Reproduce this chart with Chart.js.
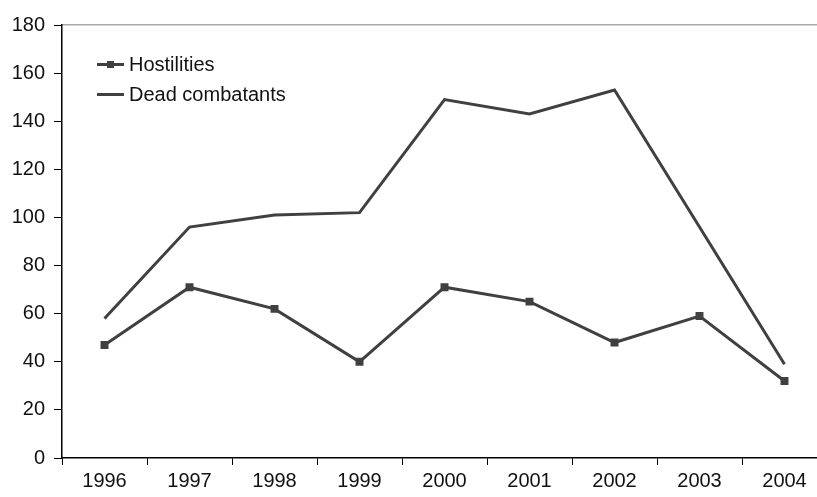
<!DOCTYPE html>
<html lang="en">
<head>
  <meta charset="UTF-8"/>
  <title>Hostilities and dead combatants</title>
  <script src="https://cdn.jsdelivr.net/npm/chart.js"></script>
  <style>
    html, body { margin: 0; padding: 0; overflow: hidden; background: #fff; }
    #wrap { position: relative; width: 840px; height: 497px; }
    #legend { position: absolute; left: 97px; top: 49px; font-family: "Liberation Sans", Arial, sans-serif; font-size: 20px; color: #111; }
    .item { height: 30px; line-height: 26px; display: flex; align-items: center; }
    .swatch { position: relative; width: 27px; height: 3px; background: #404040; margin-right: 5px; }
    .swatch.mark::after { content: ""; position: absolute; left: 10px; top: -2px; width: 7px; height: 7px; background: #404040; }
  </style>
</head>
<body>
  <div id="wrap">
    <canvas id="chart" width="840" height="497"></canvas>
    <div id="legend">
      <div class="item"><span class="swatch mark"></span>Hostilities</div>
      <div class="item"><span class="swatch"></span>Dead combatants</div>
    </div>
  </div>

  <script>
    // data
    const years = ['1996','1997','1998','1999','2000','2001','2002','2003','2004'];
    const hostilities = [47, 71, 62, 40, 71, 65, 48, 59, 32];
    const deadCombatants = [58, 96, 101, 102, 149, 143, 153, 96, 39];

    const font = { family: '"Liberation Sans", Arial, sans-serif', size: 20 };

    new Chart(document.getElementById('chart'), {
      type: 'line',
      data: {
        labels: years,
        datasets: [
          {
            label: 'Hostilities',
            data: hostilities,
            borderColor: '#404040',
            backgroundColor: '#404040',
            borderWidth: 3,
            pointStyle: 'rect',
            pointRadius: 3.5,
            tension: 0
          },
          {
            label: 'Dead combatants',
            data: deadCombatants,
            borderColor: '#404040',
            borderWidth: 3,
            pointRadius: 0,
            tension: 0
          }
        ]
      },
      options: {
        responsive: false,
        animation: false,
        layout: { padding: { left: 0, right: 13, top: 25, bottom: 0 } },
        plugins: { legend: { display: false }, tooltip: { enabled: false } },
        scales: {
          x: {
            offset: true,
            grid: { offset: true, drawOnChartArea: false, drawTicks: true, tickLength: 7, color: '#000' },
            border: { color: '#000', width: 1.5 },
            ticks: { color: '#111', font: font, padding: 4, maxRotation: 0 },
            afterFit: s => { s.height = 39; }
          },
          top: {
            type: 'category',
            position: 'top',
            labels: years,
            offset: true,
            grid: { display: false },
            border: { color: '#aaa', width: 1.5 },
            ticks: { display: false },
            afterFit: s => { s.height = 0; }
          },
          y: {
            min: 0,
            max: 180,
            ticks: { stepSize: 20, color: '#111', font: font, padding: 9 },
            grid: { drawOnChartArea: false, drawTicks: true, tickLength: 8, color: '#000' },
            border: { color: '#000', width: 1.5 },
            afterFit: s => { s.width = 62; }
          }
        }
      }
    });
  </script>
</body>
</html>
